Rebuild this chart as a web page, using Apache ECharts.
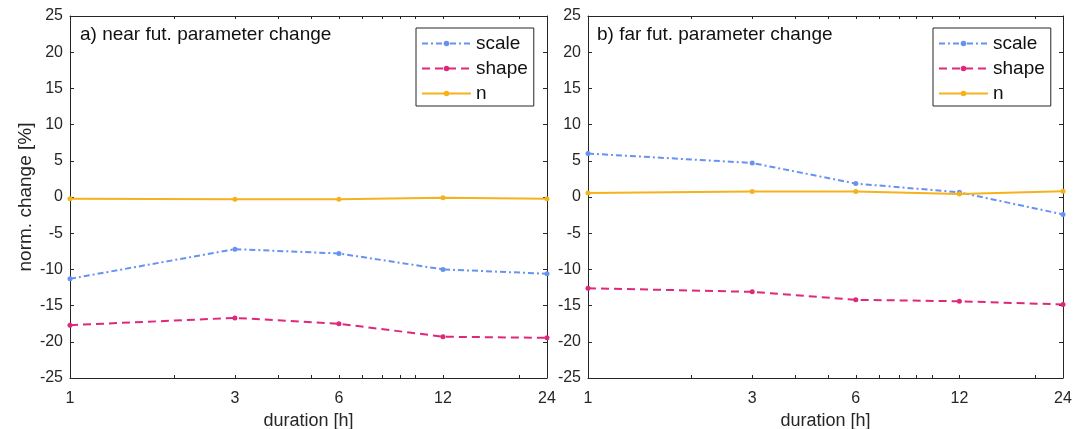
<!DOCTYPE html>
<html>
<head>
<meta charset="utf-8">
<script src="https://cdn.jsdelivr.net/npm/echarts@6/dist/echarts.min.js"></script>
<style>
  html, body { margin: 0; padding: 0; background: #fff; }
  #chart { width: 1088px; height: 429px; }
</style>
</head>
<body>
<div id="chart"></div>
<script>
// durations in hours (log x axis)
const durations = [1, 3, 6, 12, 24]
const xLabels = [1, 3, 6, 12, 24]
const xTicks = [1, 2, 3, 4, 5, 6, 7, 8, 9, 10, 12, 20, 24]

// a) near future, normalised change [%]
const nearScale = [-11.3, -7.2, -7.8, -10.0, -10.6]
const nearShape = [-17.7, -16.7, -17.5, -19.3, -19.45]
const nearN = [-0.25, -0.3, -0.3, -0.1, -0.25]

// b) far future
const farScale = [6.0, 4.7, 1.85, 0.65, -2.4]
const farShape = [-12.6, -13.1, -14.2, -14.4, -14.85]
const farN = [0.55, 0.75, 0.75, 0.4, 0.8]

const colScale = "#6792f2"
const colShape = "#e0287a"
const colN = "#f5b21c"
const axisCol = "#262626"
const font = "Liberation Sans, Arial, sans-serif"

const pairs = (vals) => durations.map((d, i) => [d, vals[i]])

// outerBoundsMode none: keep the plot boxes where they are, labels may sit near the edge
const grids = [
  { left: 70, right: 541, top: 16, bottom: 51, containLabel: false, outerBoundsMode: "none" },
  { left: 588, right: 25, top: 16, bottom: 51, containLabel: false, outerBoundsMode: "none" }
]

const makeX = (gridIndex, top) => ({
  type: "log",
  gridIndex,
  position: top ? "top" : "bottom",
  min: 1,
  max: 24,
  logBase: 10,
  name: top ? "" : "duration [h]",
  nameLocation: "middle",
  nameGap: 31,
  nameTextStyle: { color: axisCol, fontSize: 18, fontFamily: font },
  axisLine: { show: true, onZero: false, lineStyle: { color: axisCol, width: 1 } },
  axisTick: { show: true, inside: true, length: 3, customValues: xTicks, lineStyle: { color: axisCol } },
  minorTick: { show: false },
  axisLabel: {
    show: !top,
    customValues: xLabels,
    margin: 13,
    color: axisCol,
    fontSize: 16,
    fontFamily: font,
    formatter: (v) => String(Math.round(v))
  },
  splitLine: { show: false }
})

const makeY = (gridIndex, right, showName) => ({
  type: "value",
  gridIndex,
  position: right ? "right" : "left",
  min: -25,
  max: 25,
  interval: 5,
  name: showName ? "norm. change [%]" : "",
  nameLocation: "middle",
  nameGap: 35,
  nameTextStyle: { color: axisCol, fontSize: 19, fontFamily: font },
  axisLine: { show: true, onZero: false, lineStyle: { color: axisCol, width: 1 } },
  axisTick: { show: true, inside: true, length: 4, lineStyle: { color: axisCol } },
  axisLabel: { show: !right, margin: 7, color: axisCol, fontSize: 16, fontFamily: font },
  splitLine: { show: false }
})

const makeSeries = (name, vals, idx, color, type) => ({
  name,
  type: "line",
  xAxisIndex: idx * 2,
  yAxisIndex: idx * 2,
  data: pairs(vals),
  symbol: "circle",
  symbolSize: 5,
  color,
  lineStyle: { color, width: 2, type },
  itemStyle: { color },
  emphasis: { disabled: true },
  animation: false
})

const dashDot = [6, 3, 2, 3]
const dashed = [8, 5]

const legendBase = {
  orient: "vertical",
  top: 28,
  data: ["scale", "shape", "n"],
  itemWidth: 49,
  itemHeight: 7,
  itemGap: 6,
  padding: [6, 6, 3, 5],
  borderColor: axisCol,
  borderWidth: 1,
  borderRadius: 0,
  backgroundColor: "#fff",
  selectedMode: false,
  textStyle: { color: "#111", fontSize: 19, fontFamily: font }
}

const titleStyle = { color: "#111", fontSize: 19, fontWeight: "normal", fontFamily: font }

const options = {
  backgroundColor: "#fff",
  animation: false,
  title: [
    { text: "a) near fut. parameter change", left: 80, top: 25, padding: 0, textStyle: titleStyle },
    { text: "b) far fut. parameter change", left: 597, top: 25, padding: 0, textStyle: titleStyle }
  ],
  legend: [
    Object.assign({}, legendBase, { left: 416 }),
    Object.assign({}, legendBase, { left: 933 })
  ],
  grid: grids,
  xAxis: [makeX(0, false), makeX(0, true), makeX(1, false), makeX(1, true)],
  yAxis: [makeY(0, false, true), makeY(0, true, false), makeY(1, false, false), makeY(1, true, false)],
  series: [
    makeSeries("scale", nearScale, 0, colScale, dashDot),
    makeSeries("shape", nearShape, 0, colShape, dashed),
    makeSeries("n", nearN, 0, colN, "solid"),
    makeSeries("scale", farScale, 1, colScale, dashDot),
    makeSeries("shape", farShape, 1, colShape, dashed),
    makeSeries("n", farN, 1, colN, "solid")
  ]
}

const chartBox = echarts.init(document.getElementById("chart"), null, { renderer: "canvas" })
chartBox.setOption(options)
</script>
</body>
</html>
